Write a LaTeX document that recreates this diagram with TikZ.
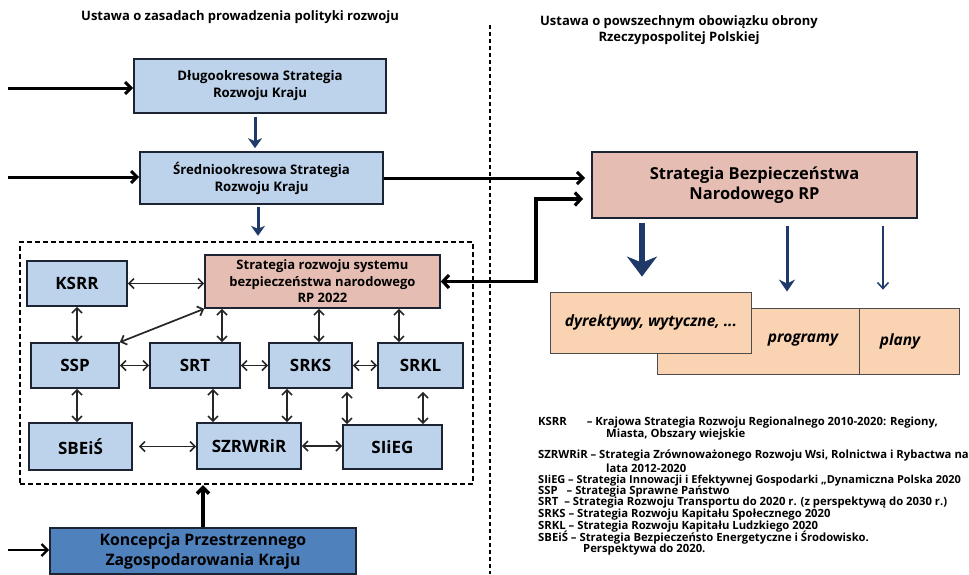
\documentclass[tikz,border=0pt]{standalone}
\usepackage{fontspec}
\setmainfont{Open Sans}
\usepackage{xcolor}
\usepackage{tikz}
\usetikzlibrary{arrows.meta}

\definecolor{boxblue}{HTML}{BDD3EC}
\definecolor{boxpink}{HTML}{E6BDB3}
\definecolor{boxorange}{HTML}{FAD3B2}
\definecolor{boxdark}{HTML}{4F81BD}
\definecolor{edgeline}{HTML}{1C2333}
\definecolor{navyarrow}{HTML}{1F3A68}

\newcommand{\fsz}[2]{\fontsize{#1}{#2}\selectfont}

\begin{document}
\begin{tikzpicture}[x=1pt, y=-1pt,
    box/.style={rectangle, draw=edgeline, line width=1.6pt, fill=boxblue, inner sep=0pt, align=center, font=\bfseries\fsz{13.2}{17}},
    abbr/.style={box, font=\bfseries\fsz{17}{20}, minimum height=45pt},
    pinkbox/.style={box, fill=boxpink},
    obox/.style={rectangle, draw=gray!60!black, line width=0.8pt, fill=boxorange, inner sep=0pt, minimum height=66pt, font=\bfseries\itshape\fsz{15.5}{18}},
    otext/.style={inner sep=0pt, font=\bfseries\itshape\fsz{15.5}{18}},
    frame/.style={rectangle, draw=black, line width=2.4pt, dash pattern=on 5pt off 3pt, minimum width=453pt, minimum height=242pt, inner sep=0pt},
    link/.style={{Straight Barb[length=5pt,width=10pt]}-{Straight Barb[length=5pt,width=10pt]}, line width=1.7pt, draw=black!85},
    feed/.style={-{Straight Barb[length=6pt,width=12pt]}, line width=3pt},
    down/.style={-{Stealth[length=10pt,width=14pt,inset=3pt]}, line width=3pt, draw=navyarrow},
    legend/.style={anchor=west, inner sep=0pt, font=\bfseries\fsz{11.3}{12}},
    title/.style={font=\bfseries\fsz{13}{16}, align=center}
]
    \useasboundingbox (0,0) rectangle (969,574);

    % Titles
    \node[title] (t1) at (240,17) {Ustawa o zasadach prowadzenia polityki rozwoju};
    \node[title] (t2) at (679,30) {Ustawa o powszechnym obowiązku obrony\\Rzeczypospolitej Polskiej};

    % Divider
    \draw[line width=1.2pt, dash pattern=on 4pt off 3pt] (490,25) -- (490,574);

    % Development strategies
    \node[box, minimum width=252pt, minimum height=54pt] (dsrk) at (260,86) {Długookresowa Strategia\\Rozwoju Kraju};
    \node[box, minimum width=243pt, minimum height=52pt] (ssrk) at (261.5,178) {Średniookresowa Strategia\\Rozwoju Kraju};

    % Group of strategies
    \node[frame] (grp) at (246.5,363) {};
    \node[pinkbox, minimum width=235pt, minimum height=53pt, font=\bfseries\fsz{13}{16.5}] (srsbn) at (322.5,281.5) {Strategia rozwoju systemu\\bezpieczeństwa narodowego\\RP 2022};
    \node[abbr, minimum width=100pt] (ksrr) at (77,283.5) {KSRR};
    \node[abbr, minimum width=88pt] (ssp) at (75,365.5) {SSP};
    \node[abbr, minimum width=90pt] (srt) at (195,365.5) {SRT};
    \node[abbr, minimum width=83pt] (srks) at (310.5,365.5) {SRKS};
    \node[abbr, minimum width=85pt] (srkl) at (420.5,365.5) {SRKL};
    \node[abbr, minimum width=103pt, minimum height=47pt] (sbeis) at (80.5,446.5) {SBEiŚ};
    \node[abbr, minimum width=104pt, minimum height=46pt] (szrwrir) at (249,446) {SZRWRiR};
    \node[abbr, minimum width=99pt, minimum height=44pt] (siieg) at (392.5,447) {SIiEG};

    % Spatial concept
    \node[box, fill=boxdark, minimum width=306pt, minimum height=46pt, font=\bfseries\fsz{15.8}{20}] (kpzk) at (203,551) {Koncepcja Przestrzennego\\Zagospodarowania Kraju};

    % National security strategy
    \node[pinkbox, line width=2pt, minimum width=325pt, minimum height=66pt, font=\bfseries\fsz{16.5}{20}] (sbn) at (754.5,185) {Strategia Bezpieczeństwa\\Narodowego RP};

    % Documents
    \node[obox, minimum width=202pt] (prog) at (758,341) {};
    \node[obox, minimum width=100pt] (plany) at (909,341) {};
    \node[obox, minimum width=201pt, minimum height=61pt] (dyr) at (651,322.5) {dyrektywy, wytyczne, ...};
    \node[otext] (progt) at (803,340) {programy};
    \node[otext] (planyt) at (900,341) {plany};

    % Incoming arrows
    \coordinate (in1) at (8,88);
    \coordinate (in2) at (8,177);
    \coordinate (in3) at (8,550);
    \coordinate (bend) at (536,0);
    \draw[feed] (in1) -- (in1 -| dsrk.west);
    \draw[feed] (in2) -- (in2 -| ssrk.west);
    \draw[feed, line width=2.4pt] (in3) -- (in3 -| kpzk.west);
    \draw[feed, shorten >=6pt] (ssrk.east) -- (ssrk.east -| sbn.west);
    \draw[feed, line width=3.2pt, {Straight Barb[length=6pt,width=13pt]}-{Straight Barb[length=6pt,width=13pt]}] (srsbn.east) -- (srsbn.east -| bend) |- ([xshift=-8pt,yshift=-14pt]sbn.west);
    \draw[feed, line width=3.4pt] (kpzk.north) -- (kpzk.north |- grp.south);

    % Downward arrows
    \draw[down, shorten <=3pt, shorten >=3pt] ([xshift=-5pt]dsrk.south) -- ([xshift=-5pt]dsrk.south |- ssrk.north);
    \draw[down, shorten <=2pt, shorten >=5pt] ([xshift=-3.5pt]ssrk.south) -- ([xshift=-3.5pt]ssrk.south |- grp.north);
    \draw[down, line width=6pt, -{Stealth[length=20pt,width=30pt,inset=6pt]}] ([xshift=-112.5pt,yshift=-4pt]sbn.south) -- ([xshift=-9pt,yshift=15pt]dyr.north);
    \draw[down, line width=3pt, -{Stealth[length=12pt,width=16pt,inset=4pt]}] ([xshift=32.5pt,yshift=-7pt]sbn.south) -- ([xshift=29pt,yshift=16pt]prog.north);
    \draw[down, line width=1.5pt, -{Straight Barb[length=6pt,width=11pt]}] ([xshift=128.5pt,yshift=-7pt]sbn.south) -- ([xshift=-26pt,yshift=18pt]plany.north);

    % Links inside the group
    \draw[link] (ksrr.east) -- (ksrr.east -| srsbn.west);
    \draw[link] (ksrr.south) -- (ksrr.south |- ssp.north);
    \draw[link] (ssp.north east) -- (srsbn.south west);
    \draw[link] ([xshift=27pt]srt.north) -- ([xshift=27pt]srt.north |- srsbn.south);
    \draw[link] ([xshift=8.5pt]srks.north) -- ([xshift=8.5pt]srks.north |- srsbn.south);
    \draw[link] ([xshift=-21.5pt]srkl.north) -- ([xshift=-21.5pt]srkl.north |- srsbn.south);
    \draw[link] (ssp.east) -- (srt.west);
    \draw[link] (srt.east) -- (srks.west);
    \draw[link] (srks.east) -- (srkl.west);
    \draw[link] ([xshift=2pt]ssp.south) -- ([xshift=2pt]ssp.south |- sbeis.north);
    \draw[link] ([xshift=18pt]srt.south) -- ([xshift=18pt]srt.south |- szrwrir.north);
    \draw[link] ([xshift=-23.5pt]srks.south) -- ([xshift=-23.5pt]srks.south |- szrwrir.north);
    \draw[link, shorten <=3pt] ([xshift=36.5pt]srks.south) -- ([xshift=36.5pt]srks.south |- siieg.north);
    \draw[link, shorten <=3pt] ([xshift=2.5pt]srkl.south) -- ([xshift=2.5pt]srkl.south |- siieg.north);
    \draw[link, shorten <=6pt] (sbeis.east) -- (sbeis.east -| szrwrir.west);
    \draw[link] (szrwrir.east) -- (szrwrir.east -| siieg.west);

    % Legend
    \node[legend] (l1) at (538,423) {KSRR\hspace{20pt}– Krajowa Strategia Rozwoju Regionalnego 2010-2020: Regiony,};
    \node[legend] (l1c) at (606,435) {Miasta, Obszary wiejskie};
    \node[legend] (l2) at (538,456) {SZRWRiR – Strategia Zrównoważonego Rozwoju Wsi, Rolnictwa i Rybactwa na};
    \node[legend] (l2c) at (606,468) {lata 2012-2020};
    \node[legend, font=\bfseries\fsz{11}{12}] (l3) at (538,481) {SIiEG\ – Strategia Innowacji i Efektywnej Gospodarki „Dynamiczna Polska 2020};
    \node[legend] (l4) at (538,492) {SSP\hspace{6pt} – Strategia Sprawne Państwo};
    \node[legend] (l5) at (538,503) {SRT\hspace{3pt} – Strategia Rozwoju Transportu do 2020 r. (z perspektywą do 2030 r.)};
    \node[legend] (l6) at (538,515) {SRKS – Strategia Rozwoju Kapitału Społecznego 2020};
    \node[legend] (l7) at (538,527) {SRKL – Strategia Rozwoju Kapitału Ludzkiego 2020};
    \node[legend] (l8) at (538,538) {SBEiŚ – Strategia Bezpieczeństo Energetyczne i Środowisko.};
    \node[legend] (l8c) at (583,550) {Perspektywa do 2020.};

\end{tikzpicture}
\end{document}
